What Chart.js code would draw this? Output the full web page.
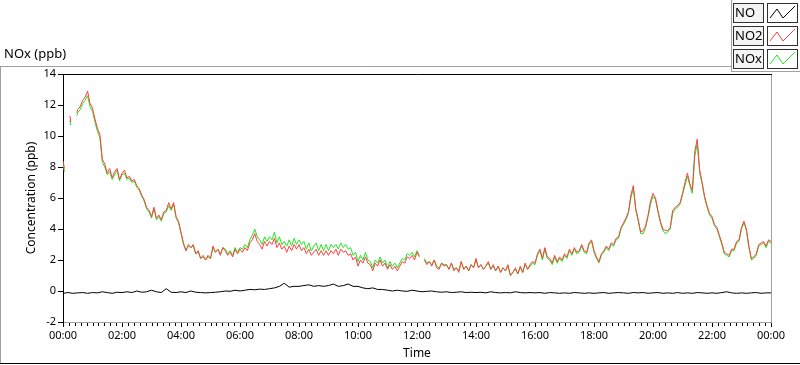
<!DOCTYPE html>
<html>
<head>
<meta charset="utf-8">
<title>NOx (ppb)</title>
<script src="https://cdn.jsdelivr.net/npm/chart.js@4.4.1/dist/chart.umd.min.js"></script>
<style>
  html, body { margin: 0; padding: 0; background: #fff; }
  canvas { display: block; }
</style>
</head>
<body>
<canvas id="noxChart" width="800" height="365"></canvas>
<script>
// Sample times in minutes after midnight (gaps in the logger are null values)
const SAMPLE_MINUTES = [0, 3, 4, 14, 16, 17, 28];
for (let m = 30; m <= 1440; m += 5) SAMPLE_MINUTES.push(m);

// NO is read at a coarser 10 minute step
const NO_MINUTES = [];
for (let m = 0; m <= 1440; m += 10) NO_MINUTES.push(m);

const NO2_PPB = [
    8.4, 7.9, null, 11.3, 10.9, null, 11.5,
    11.7, 11.9, 12.3, 12.5, 12.9, 12.1,
    11.8, 11.1, 10.5, 10.1, 8.5, 8.2, 7.6, 7.9, 7.3, 7.7, 7.9, 7.2,
    7.6, 7.8, 7.3, 7.4, 7.1, 7.2, 6.8, 6.6, 6.2, 5.9, 5.4, 5.2,
    4.8, 5.4, 4.7, 4.9, 4.6, 5.1, 5.2, 5.7, 5.3, 5.7, 4.8, 4.5,
    3.8, 3.1, 2.6, 3.0, 2.8, 3.0, 2.4, 2.6, 2.1, 2.3, 2.0, 2.3,
    2.1, 2.9, 2.5, 2.7, 2.3, 2.8, 2.6, 2.3, 2.5, 2.2, 2.7, 2.4,
    2.7, 2.5, 2.8, 2.6, 3.1, 3.3, 3.7, 3.2, 3.0, 2.7, 3.2, 2.9,
    3.2, 3.0, 3.4, 2.8, 3.1, 2.7, 2.9, 2.5, 2.9, 2.6, 3.0, 2.7,
    3.0, 2.6, 2.8, 2.4, 2.7, 2.3, 2.5, 2.7, 2.3, 2.6, 2.3, 2.6,
    2.3, 2.6, 2.4, 2.7, 2.3, 2.7, 2.5, 2.6, 2.3, 2.4, 2.0, 2.2,
    1.6, 2.0, 1.8, 2.2, 1.8, 1.7, 1.3, 1.8, 1.6, 2.0, 1.6, 1.8,
    1.4, 1.7, 1.4, 1.6, 1.3, 1.6, 1.9, 1.8, 2.2, 2.1, 2.3, 2.0,
    2.5, 2.2, null, 2.0, 1.7, 1.9, 1.6, 2.0, 1.5, 1.4, 1.8, 1.6,
    1.7, 1.4, 1.8, 1.3, 1.5, 1.2, 1.9, 1.4, 1.6, 1.3, 1.7, 1.5,
    2.1, 1.5, 1.7, 1.4, 1.6, 1.9, 1.4, 1.7, 1.3, 1.6, 1.2, 1.5,
    1.3, 1.7, 1.0, 1.2, 1.5, 1.1, 1.6, 1.2, 1.8, 1.4, 1.7, 1.9,
    1.8, 2.4, 2.7, 2.1, 2.8, 2.2, 2.1, 1.8, 2.3, 1.9, 2.2, 2.0,
    2.4, 2.2, 2.7, 2.4, 2.8, 2.5, 2.6, 3.0, 2.6, 2.5, 3.1, 3.3,
    2.6, 2.2, 1.9, 2.4, 2.6, 2.9, 2.7, 3.1, 3.0, 3.4, 3.5, 4.1,
    4.4, 4.7, 5.1, 6.2, 6.8, 5.3, 4.6, 3.8, 3.9, 4.2, 4.9, 5.8,
    6.3, 6.0, 5.2, 4.5, 4.0, 3.9, 3.9, 4.1, 5.2, 5.4, 5.5, 5.7,
    6.3, 7.0, 7.6, 6.9, 6.5, 9.0, 9.8, 7.8, 7.0, 6.1, 5.5, 5.0,
    4.8, 4.3, 4.1, 3.6, 3.1, 2.5, 2.4, 2.3, 2.7, 2.7, 3.2, 3.3,
    4.1, 4.5, 4.0, 2.9, 2.1, 2.2, 2.4, 3.0, 3.1, 3.2, 2.9, 3.3,
    3.2
];

const NOX_PPB = [
    8.2, 7.7, null, 11.0, 10.7, null, 11.3,
    11.5, 11.7, 12.1, 12.3, 12.6, 11.9,
    11.6, 10.9, 10.3, 9.9, 8.3, 8.0, 7.5, 7.7, 7.2, 7.5, 7.8, 7.1,
    7.5, 7.6, 7.2, 7.3, 7.0, 7.1, 6.7, 6.5, 6.1, 5.8, 5.3, 5.1,
    4.7, 5.3, 4.6, 4.8, 4.5, 5.0, 5.1, 5.5, 5.2, 5.6, 4.7, 4.4,
    3.7, 3.0, 2.6, 2.9, 2.8, 2.9, 2.4, 2.5, 2.1, 2.2, 2.0, 2.2,
    2.1, 2.8, 2.5, 2.7, 2.4, 2.8, 2.7, 2.4, 2.6, 2.3, 2.8, 2.5,
    2.8, 2.7, 3.0, 2.8, 3.3, 3.6, 4.0, 3.5, 3.3, 3.0, 3.5, 3.2,
    3.5, 3.3, 3.8, 3.1, 3.5, 3.0, 3.2, 2.9, 3.3, 2.9, 3.4, 3.0,
    3.3, 3.0, 3.2, 2.7, 3.1, 2.6, 2.9, 3.1, 2.6, 3.0, 2.6, 3.0,
    2.6, 3.0, 2.8, 3.0, 2.7, 3.1, 2.8, 3.0, 2.7, 2.8, 2.3, 2.5,
    1.9, 2.3, 2.0, 2.5, 2.0, 1.9, 1.5, 2.0, 1.8, 2.2, 1.8, 2.0,
    1.5, 1.9, 1.6, 1.8, 1.5, 1.8, 2.1, 2.0, 2.4, 2.3, 2.5, 2.2,
    2.6, 2.3, null, 2.1, 1.8, 1.9, 1.7, 2.0, 1.6, 1.5, 1.8, 1.7,
    1.7, 1.4, 1.8, 1.4, 1.5, 1.3, 1.9, 1.4, 1.6, 1.3, 1.7, 1.5,
    2.0, 1.5, 1.7, 1.4, 1.6, 1.8, 1.4, 1.6, 1.3, 1.6, 1.2, 1.5,
    1.3, 1.6, 1.0, 1.2, 1.4, 1.1, 1.5, 1.2, 1.7, 1.4, 1.6, 1.8,
    1.7, 2.3, 2.6, 2.0, 2.7, 2.1, 2.0, 1.7, 2.2, 1.8, 2.1, 1.9,
    2.3, 2.1, 2.6, 2.3, 2.7, 2.4, 2.5, 2.9, 2.5, 2.4, 3.0, 3.2,
    2.5, 2.1, 1.8, 2.3, 2.5, 2.8, 2.6, 3.0, 2.9, 3.3, 3.4, 4.0,
    4.3, 4.6, 5.0, 6.0, 6.6, 5.2, 4.5, 3.7, 3.7, 4.1, 4.8, 5.6,
    6.1, 5.9, 5.1, 4.4, 3.9, 3.7, 3.8, 4.0, 5.0, 5.3, 5.4, 5.6,
    6.2, 6.8, 7.4, 6.8, 6.3, 8.7, 9.5, 7.6, 6.9, 6.0, 5.4, 4.9,
    4.7, 4.2, 4.0, 3.5, 3.0, 2.4, 2.3, 2.2, 2.6, 2.6, 3.1, 3.2,
    4.0, 4.4, 3.9, 2.8, 2.0, 2.1, 2.3, 2.9, 3.0, 3.1, 2.8, 3.2,
    3.1
];

const NO_PPB = [
    -0.15, -0.10, -0.15, -0.12, -0.10, -0.15,
    -0.10, -0.12, -0.05, -0.10, -0.15, -0.08,
    -0.10, -0.05, -0.10, 0.00, -0.08, -0.05,
    0.05, -0.05, -0.10, 0.15, -0.08, -0.10,
    -0.05, -0.10, 0.00, -0.08, -0.10, -0.12,
    -0.10, -0.08, -0.05, 0.00, -0.02, 0.05,
    0.00, 0.05, 0.10, 0.08, 0.12, 0.10,
    0.15, 0.20, 0.30, 0.50, 0.25, 0.30,
    0.30, 0.35, 0.40, 0.30, 0.35, 0.30,
    0.35, 0.45, 0.30, 0.35, 0.45, 0.30,
    0.30, 0.20, 0.15, 0.20, 0.10, 0.10,
    0.05, 0.00, 0.05, 0.00, -0.02, 0.05,
    0.00, -0.05, -0.02, 0.00, -0.05, -0.08,
    -0.05, -0.10, -0.08, -0.05, -0.10, -0.08,
    -0.10, -0.08, -0.12, -0.05, -0.10, -0.12,
    -0.10, -0.12, -0.05, -0.10, -0.12, -0.10,
    -0.12, -0.10, -0.15, -0.10, -0.12, -0.15,
    -0.12, -0.15, -0.10, -0.12, -0.15, -0.12,
    -0.15, -0.12, -0.10, -0.15, -0.12, -0.10,
    -0.12, -0.15, -0.10, -0.12, -0.10, -0.15,
    -0.12, -0.10, -0.15, -0.12, -0.15, -0.10,
    -0.15, -0.12, -0.15, -0.10, -0.12, -0.15,
    -0.12, -0.15, -0.10, -0.05, -0.12, -0.15,
    -0.12, -0.15, -0.12, -0.10, -0.15, -0.12,
    -0.12
];

const SERIES_NAMES = ['NO', 'NO2', 'NOx'];
const SERIES_COLORS = ['#000000', '#ff4040', '#22e622'];

const Y_MIN = -2;
const Y_MAX = 14;
const Y_STEP = 2;
const X_MAJOR_STEP = 120; // minutes between labelled ticks
const X_MINOR_STEP = 12;

const FONT = "'Noto Sans', 'DejaVu Sans', sans-serif";
const FRAME_GRAY = '#a0a0a0';

function toPoints(minutes, values) {
    return minutes.map((m, i) => ({ x: m, y: values[i] }));
}

function formatClock(value) {
    const mins = Math.round(value) % 1440;
    const h = Math.floor(mins / 60);
    const m = mins % 60;
    return String(h).padStart(2, '0') + ':' + String(m).padStart(2, '0');
}

// Frame lines, minor ticks, plot label and the legend panel
const labviewFrame = {
    id: 'labviewFrame',
    beforeDraw(chart) {
        const ctx = chart.ctx;
        ctx.save();
        ctx.fillStyle = '#ffffff';
        ctx.fillRect(0, 0, chart.width, chart.height);
        ctx.restore();
    },
    afterDraw(chart) {
        const ctx = chart.ctx;
        const area = chart.chartArea;
        const xScale = chart.scales.x;
        ctx.save();
        ctx.lineWidth = 1;

        // outer frame
        ctx.strokeStyle = FRAME_GRAY;
        ctx.beginPath();
        ctx.moveTo(0, 66.5);
        ctx.lineTo(731, 66.5);
        ctx.moveTo(0.5, 66);
        ctx.lineTo(0.5, 363);
        ctx.moveTo(731.5, 0);
        ctx.lineTo(731.5, 72);
        ctx.moveTo(731, 71.5);
        ctx.lineTo(800, 71.5);
        ctx.stroke();
        ctx.strokeStyle = '#000';
        ctx.beginPath();
        ctx.moveTo(0, 363.5);
        ctx.lineTo(800, 363.5);
        ctx.stroke();

        // plot frame: black top, gray right
        ctx.beginPath();
        ctx.moveTo(area.left, Math.round(area.top) + 0.5);
        ctx.lineTo(area.right + 1, Math.round(area.top) + 0.5);
        ctx.stroke();
        ctx.strokeStyle = FRAME_GRAY;
        ctx.beginPath();
        ctx.moveTo(Math.round(area.right) + 0.5, area.top + 1);
        ctx.lineTo(Math.round(area.right) + 0.5, area.bottom);
        ctx.stroke();

        // minor ticks on the time axis
        ctx.strokeStyle = '#000';
        ctx.beginPath();
        for (let m = 0; m <= 1440; m += X_MINOR_STEP) {
            if (m % X_MAJOR_STEP === 0) continue;
            const px = Math.round(xScale.getPixelForValue(m)) + 0.5;
            ctx.moveTo(px, area.bottom + 1);
            ctx.lineTo(px, area.bottom + 4);
        }
        ctx.stroke();

        // plot label
        ctx.fillStyle = '#000';
        ctx.font = '13px ' + FONT;
        ctx.textAlign = 'left';
        ctx.textBaseline = 'middle';
        ctx.fillText('NOx (ppb)', 4, 54);

        // legend panel
        SERIES_NAMES.forEach((name, i) => {
            const top = 4 + i * 23;
            const h = 18;
            ctx.fillStyle = '#f4f4f4';
            ctx.fillRect(734, top, 29, h);
            ctx.strokeStyle = '#303030';
            ctx.strokeRect(733.5, top - 0.5, 30, h + 1);
            ctx.fillStyle = '#ffffff';
            ctx.fillRect(768, top, 29, h);
            ctx.strokeRect(767.5, top - 0.5, 30, h + 1);

            ctx.fillStyle = '#000';
            ctx.font = '13px ' + FONT;
            ctx.textBaseline = 'middle';
            ctx.fillText(name, 735, top + h / 2 + 0.5);

            ctx.strokeStyle = SERIES_COLORS[i];
            ctx.beginPath();
            ctx.moveTo(770, top + h - 4);
            ctx.lineTo(777, top + 5);
            ctx.lineTo(783, top + h - 4);
            ctx.lineTo(795, top + 2);
            ctx.stroke();
        });
        ctx.restore();
    }
};

const ctx = document.getElementById('noxChart').getContext('2d');

new Chart(ctx, {
    type: 'line',
    data: {
        datasets: [
            {
                label: SERIES_NAMES[1],
                data: toPoints(SAMPLE_MINUTES, NO2_PPB),
                borderColor: SERIES_COLORS[1],
                order: 0
            },
            {
                label: SERIES_NAMES[2],
                data: toPoints(SAMPLE_MINUTES, NOX_PPB),
                borderColor: SERIES_COLORS[2],
                order: 1
            },
            {
                label: SERIES_NAMES[0],
                data: toPoints(NO_MINUTES, NO_PPB),
                borderColor: SERIES_COLORS[0],
                order: 2
            }
        ]
    },
    options: {
        responsive: false,
        animation: false,
        spanGaps: false,
        elements: {
            line: { borderWidth: 1, tension: 0 },
            point: { radius: 0, hoverRadius: 0 }
        },
        layout: { padding: { left: 0, right: 29, top: 74, bottom: 0 } },
        plugins: {
            legend: { display: false },
            tooltip: { enabled: false }
        },
        scales: {
            x: {
                type: 'linear',
                min: 0,
                max: 1440,
                afterFit(scale) { scale.height = 43; },
                border: { display: true, color: FRAME_GRAY, width: 1 },
                grid: { drawOnChartArea: false, drawTicks: true, tickLength: 5, tickColor: '#000' },
                ticks: {
                    stepSize: X_MAJOR_STEP,
                    autoSkip: false,
                    maxRotation: 0,
                    padding: 2,
                    color: '#000',
                    font: { family: FONT, size: 11 },
                    callback: (v) => formatClock(v)
                },
                title: {
                    display: true,
                    text: 'Time',
                    color: '#000',
                    font: { family: FONT, size: 12 },
                    padding: { top: 0, bottom: 4 }
                }
            },
            y: {
                min: Y_MIN,
                max: Y_MAX,
                afterFit(scale) { scale.width = 63; },
                border: { display: true, color: '#000', width: 1 },
                grid: { drawOnChartArea: false, drawTicks: true, tickLength: 5, tickColor: '#000' },
                ticks: {
                    stepSize: Y_STEP,
                    padding: 2,
                    color: '#000',
                    font: { family: FONT, size: 11 }
                },
                title: {
                    display: true,
                    text: 'Concentration (ppb)',
                    color: '#000',
                    font: { family: FONT, size: 12 },
                    padding: { top: 24, bottom: 0 }
                }
            }
        }
    },
    plugins: [labviewFrame]
});
</script>
</body>
</html>
